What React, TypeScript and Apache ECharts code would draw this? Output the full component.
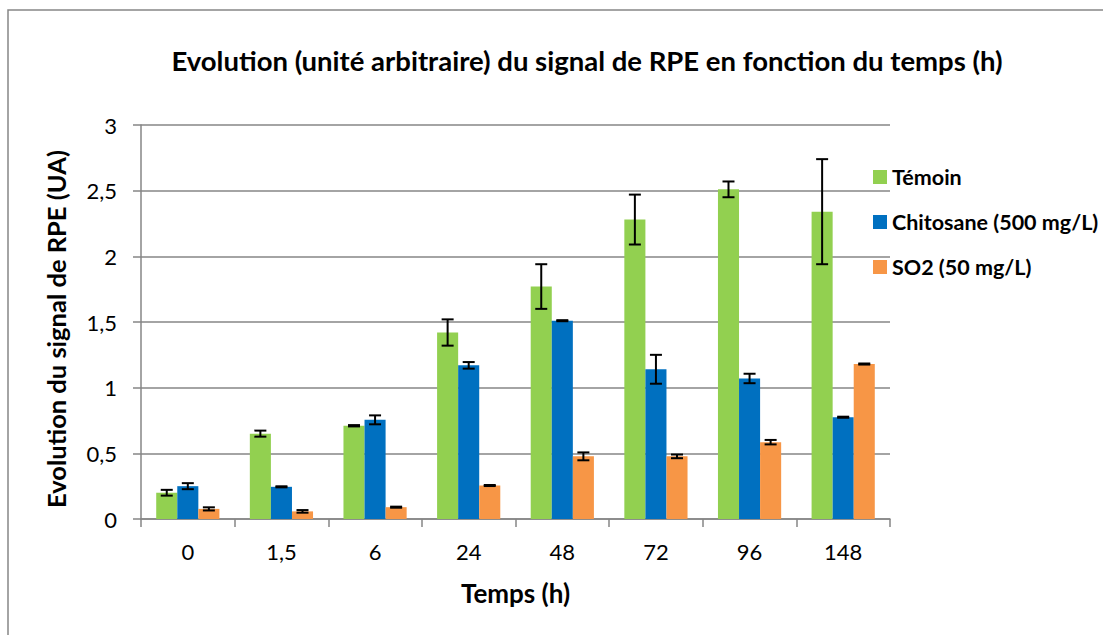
import React, { useEffect, useRef } from "react";
import * as echarts from "echarts";

const categories = ["0", "1,5", "6", "24", "48", "72", "96", "148"];
const seriesNames = ["Témoin", "Chitosane (500 mg/L)", "SO2 (50 mg/L)"];
const temoin = [0.2, 0.65, 0.71, 1.42, 1.77, 2.28, 2.51, 2.34];
const temoinErr = [0.022, 0.023, 0.005, 0.1, 0.17, 0.19, 0.06, 0.4];
const chitosane = [0.25, 0.245, 0.755, 1.17, 1.51, 1.14, 1.07, 0.775];
const chitosaneErr = [0.023, 0.004, 0.034, 0.025, 0.004, 0.11, 0.036, 0.004];
const so2 = [0.077, 0.058, 0.09, 0.255, 0.477, 0.477, 0.585, 1.18];
const so2Err = [0.012, 0.01, 0.004, 0.004, 0.03, 0.014, 0.017, 0.004];
const colors = ["#92D050", "#0070C0", "#F79646"];

const FONT = "Lato";
const BAR_FRAC = 0.225;

export default function App() {
  const ref = useRef<HTMLDivElement>(null);
  useEffect(() => {
    if (!ref.current) return;
    const chart = echarts.init(ref.current, null, { renderer: "svg" });
    const values = [temoin, chitosane, so2];
    const errs = [temoinErr, chitosaneErr, so2Err];
    const barSeries = values.map((vals, s) => ({
      name: seriesNames[s],
      type: "bar",
      data: vals,
      barWidth: "22.5%",
      barGap: "0%",
      itemStyle: { color: colors[s] },
    }));
    const errSeries = values.map((vals, s) => ({
      name: "err" + s,
      type: "custom",
      data: vals.map((v, i) => [i, v, errs[s][i]]),
      z: 10,
      renderItem: (params: any, api: any) => {
        const ci = api.value(0);
        const v = api.value(1);
        const e = api.value(2);
        const band = api.size([1, 0])[0];
        const barW = band * BAR_FRAC;
        const x = api.coord([ci, v])[0] + (s - 1) * barW;
        const yTop = api.coord([ci, v + e])[1];
        const yBot = api.coord([ci, v - e])[1];
        const cap = 6;
        const st = { stroke: "#000", lineWidth: 2 };
        return {
          type: "group",
          children: [
            { type: "line", shape: { x1: x, y1: yTop, x2: x, y2: yBot }, style: st },
            { type: "line", shape: { x1: x - cap, y1: yTop, x2: x + cap, y2: yTop }, style: st },
            { type: "line", shape: { x1: x - cap, y1: yBot, x2: x + cap, y2: yBot }, style: st },
          ],
        };
      },
    }));
    chart.setOption({
      animation: false,
      backgroundColor: "#fff",
      title: {
        text: "Evolution (unité arbitraire) du signal de RPE en fonction du temps (h)",
        left: 582,
        textAlign: "center",
        top: 41,
        textStyle: { fontFamily: FONT, fontWeight: "bold", fontSize: 27.5, color: "#000" },
      },
      graphic: [
        {
          type: "rect",
          shape: { x: 8, y: 10, width: 1120, height: 650 },
          style: { fill: "none", stroke: "#868686", lineWidth: 1.5 },
          silent: true,
          z: -1,
        },
      ],
      legend: {
        data: seriesNames,
        orient: "vertical",
        left: 868,
        top: 161,
        itemWidth: 14,
        itemHeight: 14,
        itemGap: 23,
        icon: "rect",
        textStyle: { fontFamily: FONT, fontWeight: "bold", fontSize: 21.5, color: "#000" },
      },
      grid: { left: 141, right: 213, top: 125, bottom: 116, containLabel: false },
      xAxis: {
        type: "category",
        data: categories,
        name: "Temps (h)",
        nameLocation: "middle",
        nameGap: 61,
        nameTextStyle: { fontFamily: FONT, fontWeight: "bold", fontSize: 26, color: "#000" },
        axisLine: { lineStyle: { color: "#868686", width: 1.5 } },
        axisTick: { show: true, length: 8, lineStyle: { color: "#868686", width: 1.5 } },
        axisLabel: { fontFamily: FONT, fontSize: 22, color: "#000", margin: 21 },
      },
      yAxis: {
        type: "value",
        min: 0,
        max: 3,
        interval: 0.5,
        name: "Evolution du signal de RPE (UA)",
        nameLocation: "middle",
        nameGap: 72,
        nameTextStyle: { fontFamily: FONT, fontWeight: "bold", fontSize: 25.5, color: "#000", padding: [0, 14, 0, 0] },
        axisLine: { show: true, lineStyle: { color: "#868686", width: 1.5 } },
        axisTick: { show: true, length: 8, lineStyle: { color: "#868686", width: 1.5 } },
        splitLine: { lineStyle: { color: "#868686", width: 1.5 } },
        axisLabel: {
          fontFamily: FONT,
          fontSize: 22,
          color: "#000",
          margin: 24,
          formatter: (v: number) => String(v).replace(".", ","),
        },
      },
      series: [...barSeries, ...errSeries],
    });
    return () => chart.dispose();
  }, []);
  return (
    <div
      ref={ref}
      style={{ position: "fixed", left: 0, top: 0, width: 1103, height: 635, background: "#fff" }}
    />
  );
}
